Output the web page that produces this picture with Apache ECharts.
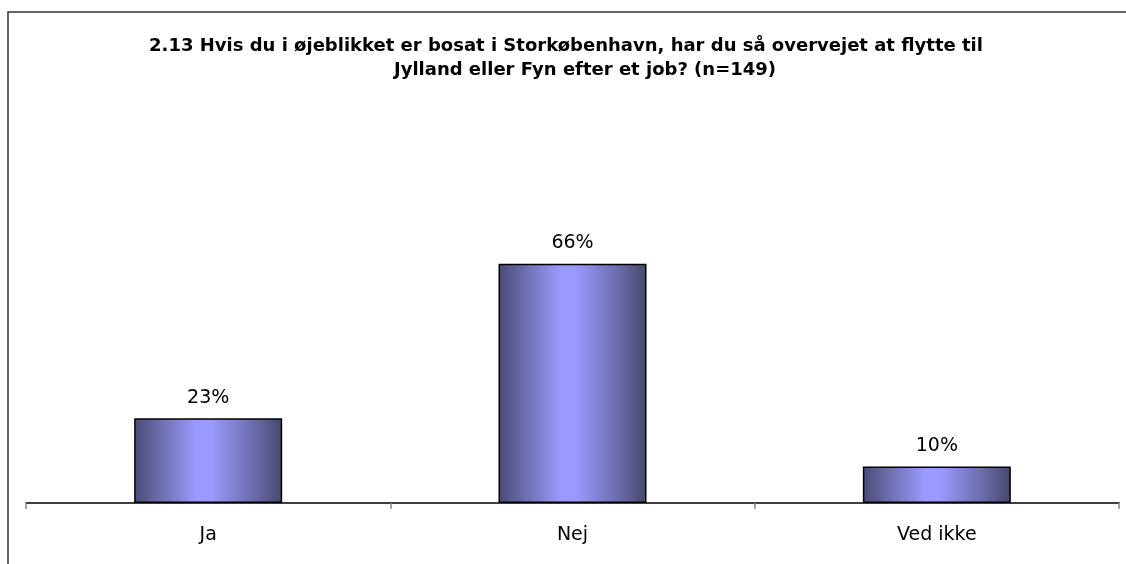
<!DOCTYPE html>
<html><head><meta charset="utf-8">
<script src="https://cdn.jsdelivr.net/npm/echarts@6/dist/echarts.min.js"></script>
<style>html,body{margin:0;padding:0;background:#fff}#c{width:1126px;height:564px}</style>
</head><body><div id="c"></div>
<script>
const categories = ['Ja', 'Nej', 'Ved ikke'];
const values = [23.3, 65.7, 10.0];
const titleLines = ['2.13 Hvis du i øjeblikket er bosat i Storkøbenhavn, har du så overvejet at flytte til', 'Jylland eller Fyn efter et job? (n=149)'];

const chart = echarts.init(document.getElementById('c'), null, {renderer: 'canvas'});
const grad = new echarts.graphic.LinearGradient(0, 0, 1, 0, [
  {offset: 0, color: '#4a4a78'},
  {offset: 0.18, color: '#6e6eae'},
  {offset: 0.42, color: '#9a9aff'},
  {offset: 0.52, color: '#9a9aff'},
  {offset: 0.82, color: '#6a6aa8'},
  {offset: 1, color: '#47476e'}
]);
const tStyle = {fontFamily: 'DejaVu Sans', fontWeight: 'bold', fontSize: 18, color: '#000'};
chart.setOption({
  animation: false,
  backgroundColor: '#fff',
  title: [
    {text: titleLines[0], left: 566, top: 37, textAlign: 'center', padding: 0, textStyle: tStyle},
    {text: titleLines[1], left: 585, top: 61, textAlign: 'center', padding: 0, textStyle: tStyle}
  ],
  graphic: [{
    type: 'rect', shape: {x: 8, y: 12, width: 1140, height: 600},
    style: {fill: 'none', stroke: '#333', lineWidth: 1.5}, silent: true
  }],
  grid: {left: 26, right: 7, top: 139, bottom: 61},
  xAxis: {
    type: 'category', data: categories,
    axisLine: {lineStyle: {color: '#000', width: 1.5}},
    axisTick: {show: true, length: 6, lineStyle: {color: '#888', width: 1.5}},
    axisLabel: {fontFamily: 'DejaVu Sans', fontSize: 19, color: '#000', margin: 23}
  },
  yAxis: {type: 'value', min: 0, max: 100, show: false, splitLine: {show: false}},
  series: [{
    type: 'bar', data: values, barWidth: 148,
    itemStyle: {color: grad, borderColor: '#000', borderWidth: 1.5},
    label: {show: true, position: 'top', distance: 11, fontFamily: 'DejaVu Sans', fontSize: 19, color: '#000',
      formatter: p => Math.round(p.value) + '%'}
  }]
});
</script></body></html>
